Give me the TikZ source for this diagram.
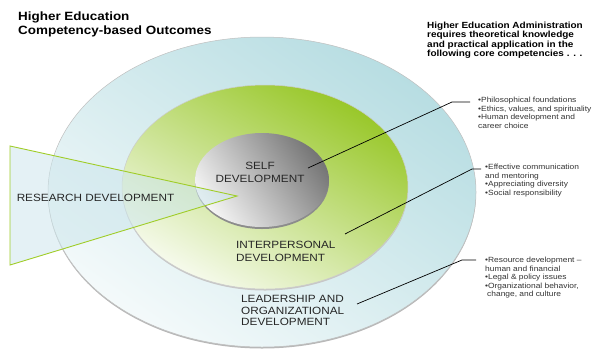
\documentclass[tikz,border=0pt]{standalone}
\usepackage{fontspec}
\setmainfont{Liberation Sans}[FakeStretch=1.12]
\definecolor{ringblue}{RGB}{183,221,226}
\definecolor{ringgreen}{RGB}{152,199,40}
\definecolor{coregray}{RGB}{118,118,118}
\definecolor{wedgeblue}{RGB}{205,230,236}
\definecolor{wedgeline}{RGB}{160,205,40}
\tikzset{
	ringlabel/.style={inner sep=0pt, font=\fontsize{10.5}{12.5}\selectfont, text=black!85},
	bulletlist/.style={inner sep=0pt, align=left, anchor=north west, font=\fontsize{7.5}{8.4}\selectfont, text=black!80},
	headline/.style={inner sep=0pt, align=left, anchor=north west},
	leader/.style={line width=0.7pt, black},
}

\begin{document}
\begin{tikzpicture}[x=1pt, y=-1pt]
		%%%%% START %%%%%
		\useasboundingbox (0,0) rectangle (593,349);
		
		% rings
		\fill[black!28] (262,193.5) ellipse (214 and 155);
		\shade[top color=ringblue, bottom color=ringblue!15!white, shading angle=-35] (262,192) ellipse (214 and 155);
		\draw[black!25, line width=0.5pt] (262,192) ellipse (214 and 155);
		
		\fill[black!22] (265,188.5) ellipse (143 and 102);
		\shade[top color=ringgreen, bottom color=ringgreen!8!white, shading angle=-30] (265,187) ellipse (143 and 102);
		\draw[black!20, line width=0.5pt] (265,187) ellipse (143 and 102);
		
		\fill[black!45] (262,182) ellipse (67 and 47);
		\shade[top color=coregray, bottom color=black!4, shading angle=-55] (262,180) ellipse (67 and 47);
		
		% wedge
		\draw[wedgeline, line width=0.9pt, fill=wedgeblue, fill opacity=0.55] (10,146) -- (237,196) -- (10,265) -- cycle;
		
		% headings
		\node[headline, font=\bfseries\fontsize{12}{14}\selectfont] (title) at (18,11.5) {Higher Education\\Competency-based Outcomes};
		\node[headline, font=\bfseries\fontsize{8.9}{9.6}\selectfont] (intro) at (427,21.5) {Higher Education Administration\\requires theoretical knowledge\\and practical application in the\\following core competencies . . .};
		
		% ring labels
		\node[ringlabel] (research) at (95.5,198) {RESEARCH DEVELOPMENT};
		\node[ringlabel, align=center] (self) at (260,172.5) {SELF\\DEVELOPMENT};
		\node[ringlabel, align=left, anchor=north west] (inter) at (236,241) {INTERPERSONAL\\DEVELOPMENT};
		\node[ringlabel, align=left, anchor=north west, font=\fontsize{10.5}{11.5}\selectfont] (lead) at (241,295) {LEADERSHIP AND\\ORGANIZATIONAL\\DEVELOPMENT};
		
		% competencies
		\node[bulletlist] (philo) at (478,97.2) {•Philosophical foundations\\•Ethics, values, and spirituality\\•Human development and\\career choice};
		\node[bulletlist] (comm) at (485,164.2) {•Effective communication\\and mentoring\\•Appreciating diversity\\•Social responsibility};
		\node[bulletlist] (res) at (485,257.2) {•Resource development –\\human and financial\\•Legal \& policy issues\\•Organizational behavior,\\\hspace{2pt}change, and culture};
		
		% leaders
		\coordinate (selfpin) at (308,168);
		\coordinate (selfknee) at (452,102);
		\coordinate (selftip) at (470,102);
		\draw[leader] (selfpin) -- (selfknee) -- (selftip);
		
		\coordinate (interpin) at (345,234);
		\coordinate (interknee) at (472,169);
		\coordinate (intertip) at (481,169);
		\draw[leader] (interpin) -- (interknee) -- (intertip);
		
		\coordinate (leadpin) at (357,304);
		\coordinate (leadknee) at (462,260);
		\coordinate (leadtip) at (476,260);
		\draw[leader] (leadpin) -- (leadknee) -- (leadtip);
		
		%%%%% END %%%%%
\end{tikzpicture}
\end{document}
